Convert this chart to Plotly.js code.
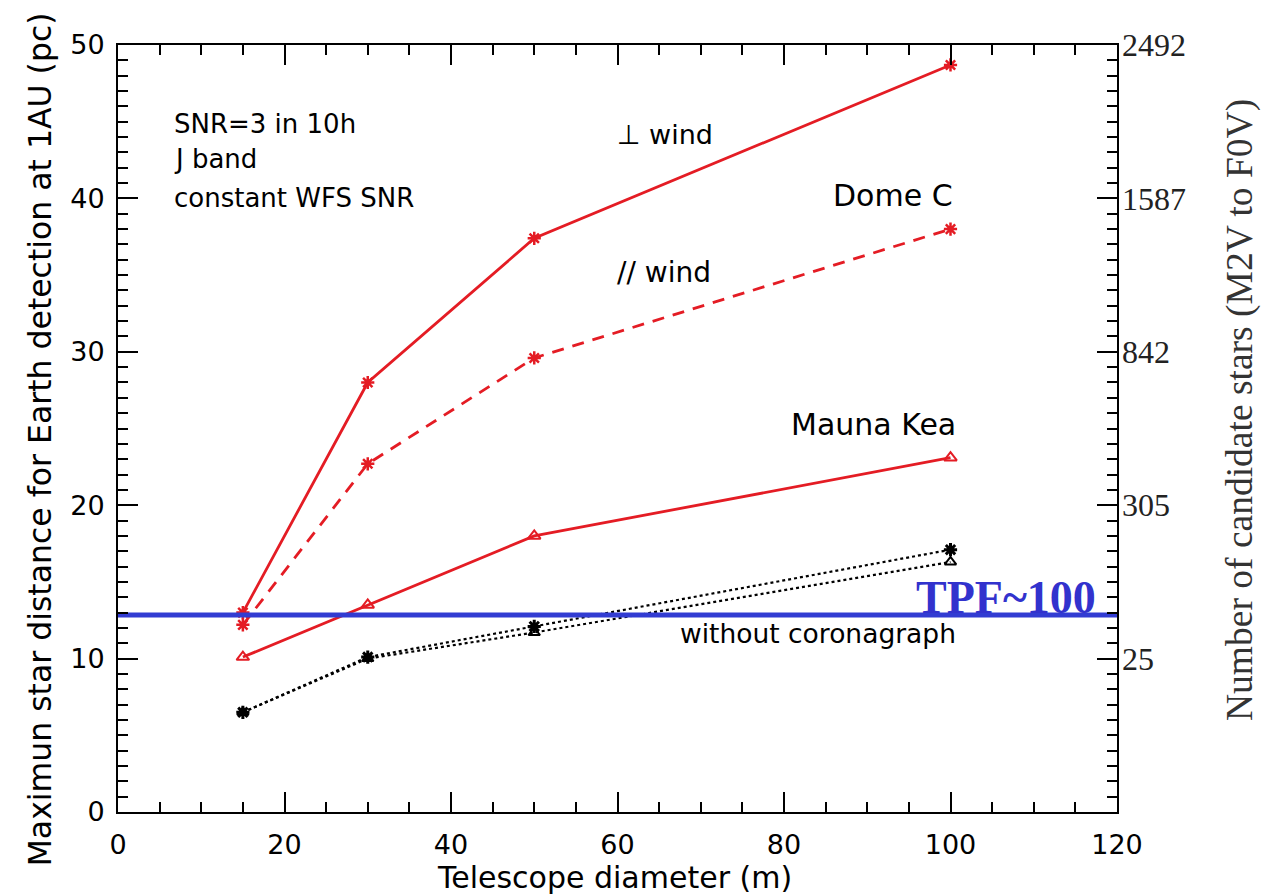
<!DOCTYPE html>
<html>
<head>
<meta charset="utf-8">
<script src="https://cdn.plot.ly/plotly-3.0.1.min.js"></script>
<style>html,body{margin:0;padding:0;background:#fff;}#chart{width:1265px;height:896px;}</style>
</head>
<body>
<div id="chart"></div>
<script>
// Telescope diameters (m)
const diameters = [15, 30, 50, 100];
// Dome C, perpendicular wind (solid, asterisk)
const domePerpWind = [13.0, 28.0, 37.4, 48.7];
// Dome C, parallel wind (dashed, asterisk)
const domeParWind = [12.2, 22.7, 29.6, 38.0];
// Mauna Kea (solid, triangle)
const maunaKea = [10.1, 13.5, 18.0, 23.1];
// Without coronagraph (dotted, black)
const noCoroAsterisk = [6.5, 10.1, 12.1, 17.1];
const noCoroTriangle = [6.5, 10.0, 11.7, 16.3];
// TPF reference level
const tpfLevel = [12.85, 12.85];
const tpfX = [0, 120];
// Right axis ticks
const rightTickVals = [10, 20, 30, 40, 50];
const rightTickText = ['25', '305', '842', '1587', '2492'];

const red = 'rgb(228,28,36)';
const ff = '"DejaVu Sans", "Liberation Sans", sans-serif';
const serif = '"Liberation Serif", "Times New Roman", serif';

const traces = [
  {x: diameters, y: domePerpWind, mode: 'lines+markers', line: {color: red, width: 2.8},
   marker: {symbol: 'asterisk-open', size: 11, line: {color: red, width: 2.5}}},
  {x: diameters, y: domeParWind, mode: 'lines+markers', line: {color: red, width: 2.8, dash: '12px,9px'},
   marker: {symbol: 'asterisk-open', size: 11, line: {color: red, width: 2.5}}},
  {x: diameters, y: maunaKea, mode: 'lines+markers', line: {color: red, width: 2.8},
   marker: {symbol: 'triangle-up-open', size: 11, line: {color: red, width: 2}}},
  {x: diameters, y: noCoroAsterisk, mode: 'lines+markers', line: {color: 'black', width: 2.2, dash: 'dot'},
   marker: {symbol: 'asterisk-open', size: 11, line: {color: 'black', width: 3}}},
  {x: diameters, y: noCoroTriangle, mode: 'lines+markers', line: {color: 'black', width: 2.2, dash: 'dot'},
   marker: {symbol: 'triangle-up-open', size: 10, line: {color: 'black', width: 2}}},
  {x: tpfX, y: tpfLevel, mode: 'lines', line: {color: 'rgb(50,60,210)', width: 5}},
  {x: [null], y: [null], yaxis: 'y2', showlegend: false}
];

function note(x, y, text, size, anchor, extra) {
  return Object.assign({x: x, y: y, xref: 'paper', yref: 'paper', xanchor: anchor, yanchor: 'middle',
    showarrow: false, text: text, font: {size: size, family: ff, color: 'black'}}, extra || {});
}

const layout = {
  width: 1265, height: 896,
  margin: {l: 118, r: 148, t: 45, b: 84},
  paper_bgcolor: '#fff', plot_bgcolor: '#fff',
  showlegend: false,
  font: {family: ff, color: 'black'},
  xaxis: {
    range: [0, 120], tickvals: [0, 20, 40, 60, 80, 100, 120],
    ticks: 'inside', ticklen: 20, tickwidth: 2, tickcolor: 'black',
    minor: {dtick: 5, ticks: 'inside', ticklen: 10, tickwidth: 2, tickcolor: 'black'},
    showline: true, linecolor: 'black', linewidth: 2, mirror: 'ticks',
    showgrid: false, zeroline: false,
    tickfont: {size: 27, family: ff}, ticklabelstandoff: 8
  },
  yaxis: {
    range: [0, 50], tickvals: [0, 10, 20, 30, 40, 50],
    ticks: 'inside', ticklen: 20, tickwidth: 2, tickcolor: 'black',
    minor: {dtick: 1, ticks: 'inside', ticklen: 10, tickwidth: 2, tickcolor: 'black'},
    showline: true, linecolor: 'black', linewidth: 2, mirror: 'ticks',
    showgrid: false, zeroline: false,
    tickfont: {size: 27, family: ff}, ticklabelstandoff: 6
  },
  yaxis2: {
    overlaying: 'y', side: 'right', range: [0, 50],
    tickvals: rightTickVals, ticktext: rightTickText,
    ticks: '', showline: false, showgrid: false, zeroline: false,
    tickfont: {size: 32, family: serif, color: '#222'},
    ticklabelstandoff: 4
  },
  annotations: [
    note(0.4965, -0.086, 'Telescope diameter (m)', 30, 'center'),
    note(-0.078, 0.486, 'Maximun star distance for Earth detection at 1AU (pc)', 31.5, 'center', {textangle: -90}),
    note(1.123, 0.524, 'Number of candidate stars (M2V to F0V)', 37.5, 'center',
         {textangle: -90, font: {size: 37.5, family: serif, color: '#333'}}),
    note(0.054, 0.897, 'SNR=3 in 10h', 26, 'left'),
    note(0.054, 0.852, 'J band', 26, 'left'),
    note(0.054, 0.800, 'constant WFS SNR', 26, 'left'),
    note(0.4975, 0.883, '⊥ wind', 27, 'left'),
    note(0.4975, 0.704, '// wind', 28, 'left'),
    note(0.838, 0.804, 'Dome C', 30, 'right'),
    note(0.841, 0.5046, 'Mauna Kea', 30, 'right'),
    note(0.841, 0.233, 'without coronagraph', 26.5, 'right'),
    note(0.981, 0.280, '<b>TPF~100</b>', 46, 'right', {font: {size: 46, family: serif, color: 'rgb(50,50,205)'}})
  ]
};

Plotly.newPlot('chart', traces, layout, {displayModeBar: false, staticPlot: true});
</script>
</body>
</html>
